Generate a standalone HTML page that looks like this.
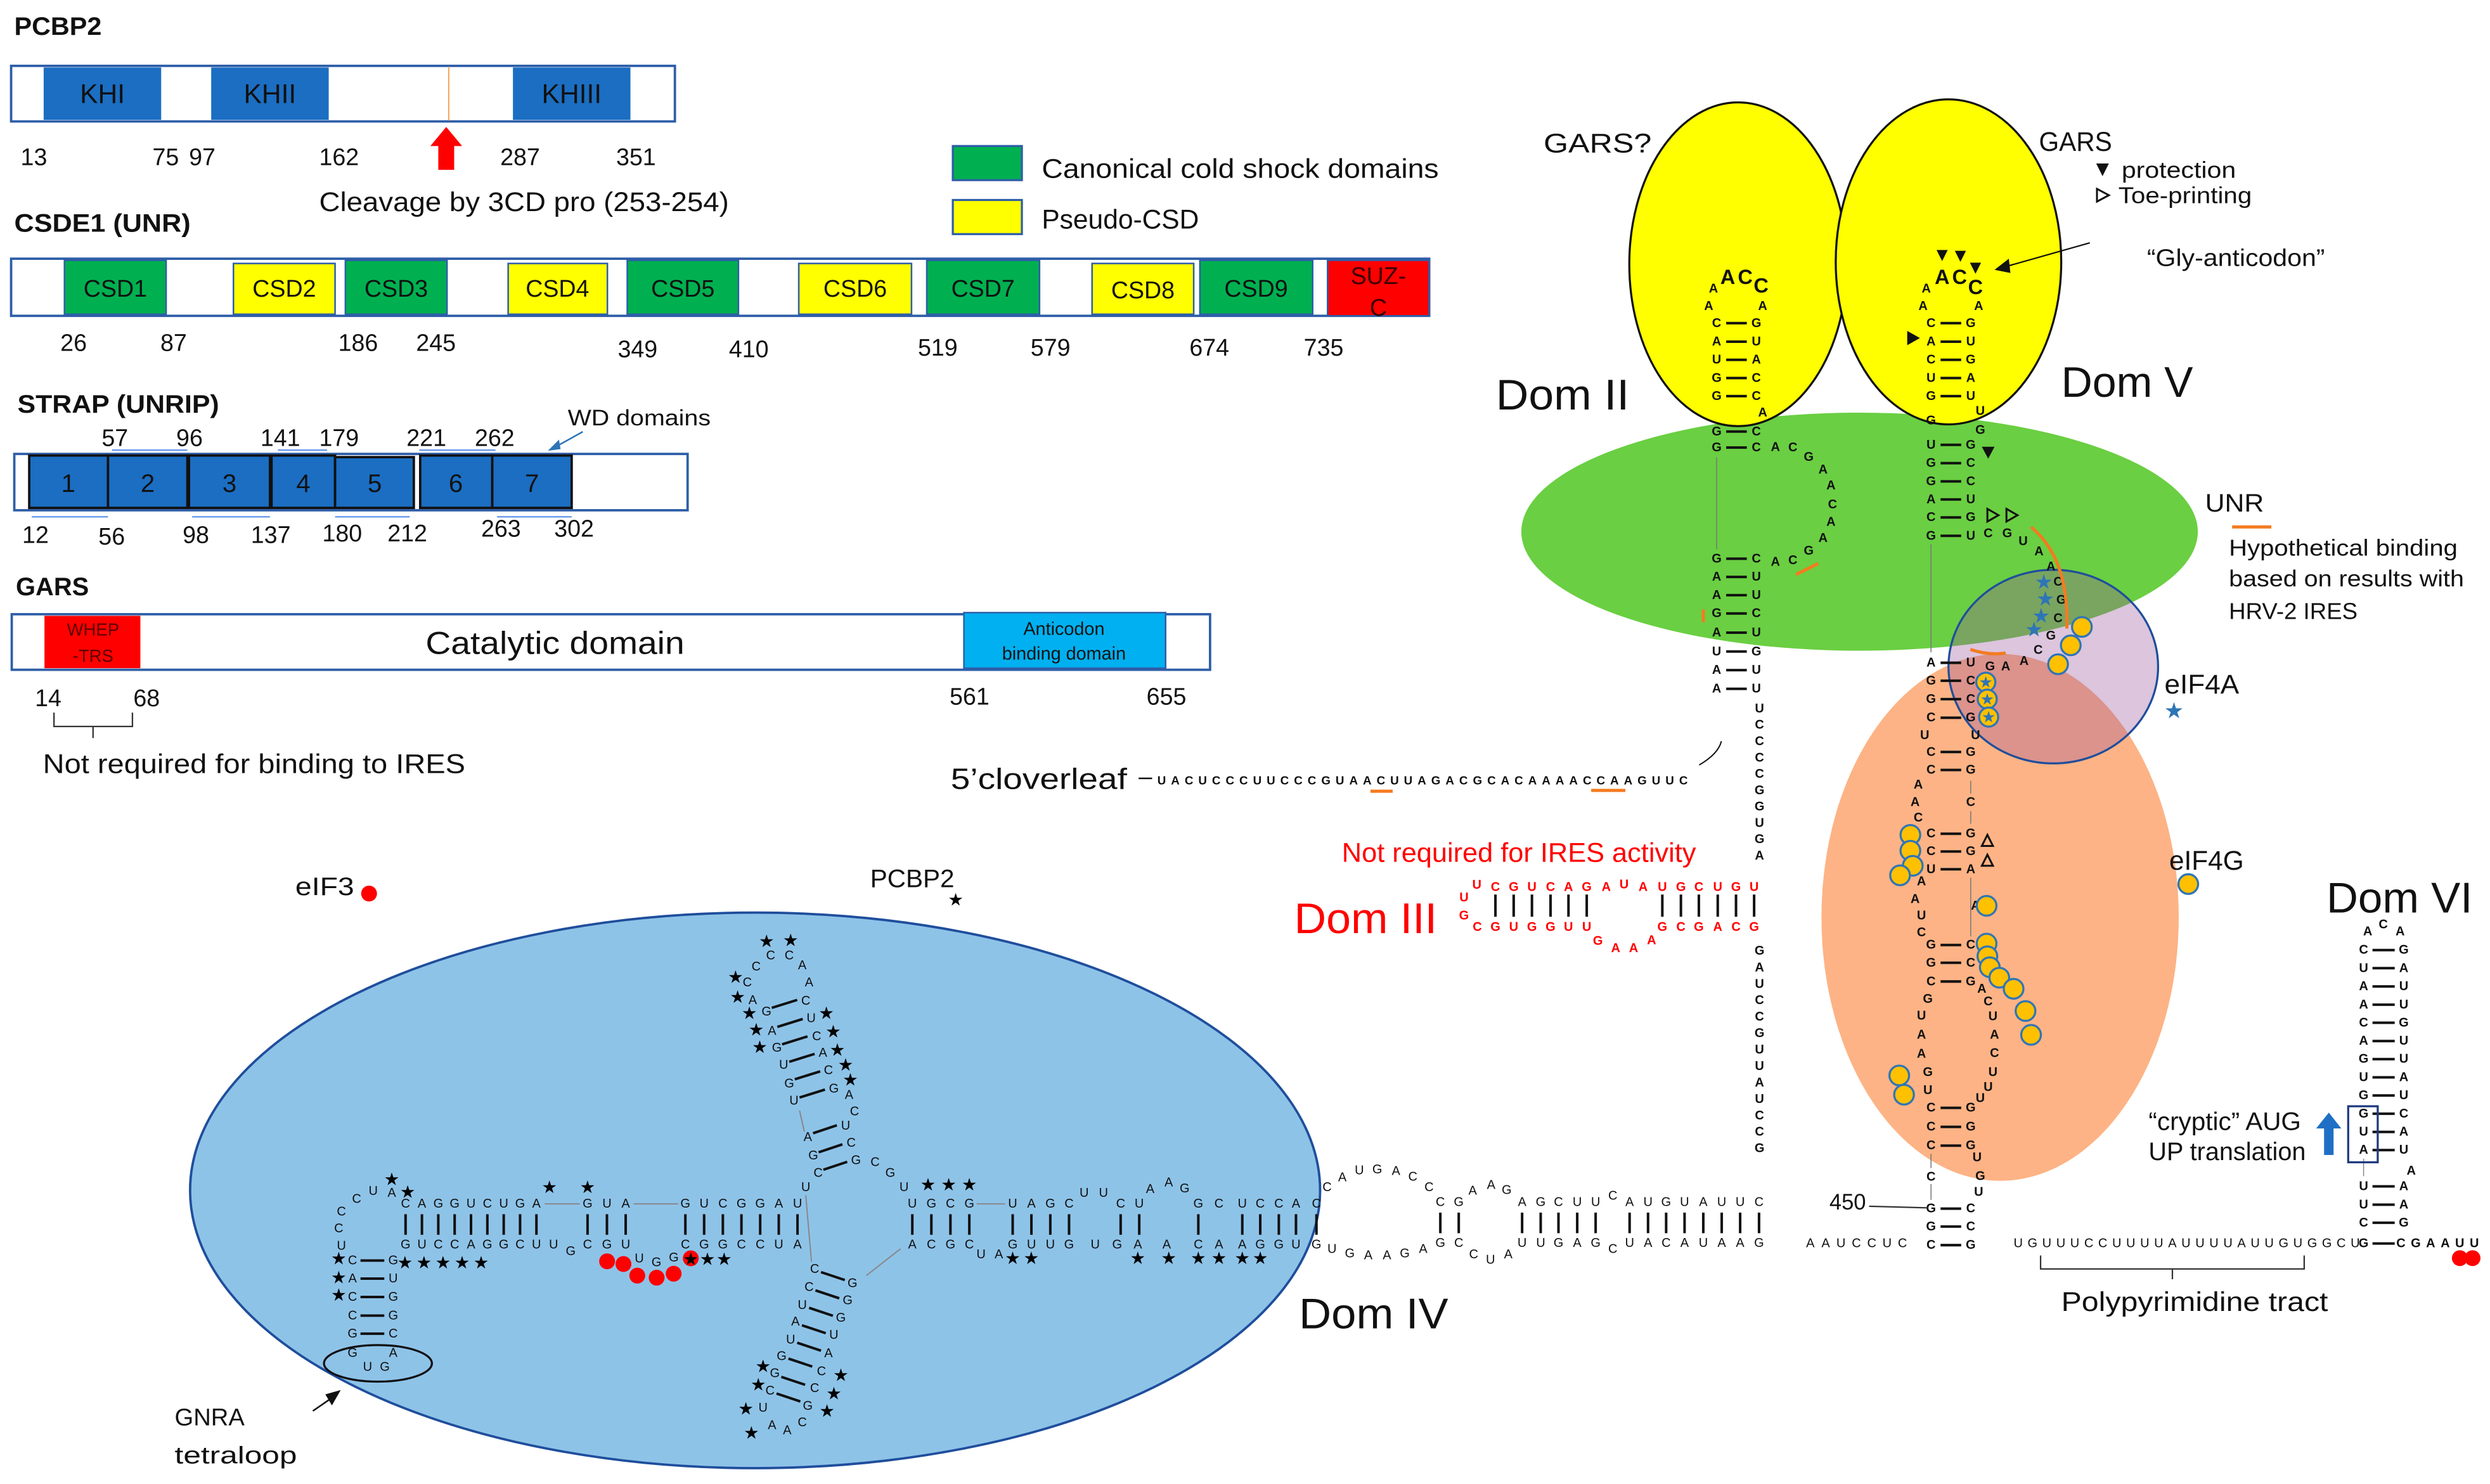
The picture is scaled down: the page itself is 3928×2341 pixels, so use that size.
<!DOCTYPE html>
<html><head><meta charset="utf-8"><style>
html,body{margin:0;padding:0;background:#fff;}
svg{display:block;}
.t{font-family:"Liberation Sans","DejaVu Sans",sans-serif;fill:#111;}
.n{font-family:"Liberation Sans",sans-serif;font-size:8px;text-anchor:middle;dominant-baseline:central;fill:#111;font-weight:bold;}
.r{fill:#ff0000;}
.s{font-family:"DejaVu Sans",sans-serif;font-size:11px;text-anchor:middle;dominant-baseline:central;fill:#000;}
.bs{fill:#2e75b6;}
.yc{fill:#ffc000;stroke:#2e75b6;stroke-width:1.3;}
.bar{stroke:#111;stroke-width:1.6;}
</style></head><body>
<svg width="3928" height="2341" viewBox="0 0 1568 935" preserveAspectRatio="none" xmlns="http://www.w3.org/2000/svg">
<rect width="1568" height="935" fill="#fff"/>

<!-- ============ PCBP2 ============ -->
<text class="t" x="9" y="22" font-size="16" font-weight="bold" textLength="55" lengthAdjust="spacingAndGlyphs">PCBP2</text>
<rect x="7" y="41.5" width="418" height="35" fill="#fff" stroke="#2e5ea8" stroke-width="1.5"/>
<rect x="27.5" y="42.5" width="74" height="33" fill="#1b6ec2"/>
<rect x="133" y="42.5" width="74" height="33" fill="#1b6ec2"/>
<rect x="323" y="42.5" width="74" height="33" fill="#1b6ec2"/>
<line x1="282.6" y1="42" x2="282.6" y2="76" stroke="#f4a460" stroke-width="0.8"/>
<g class="t" font-size="17" text-anchor="middle">
<text x="64.5" y="65">KHI</text><text x="170" y="65">KHII</text><text x="360" y="65">KHIII</text></g>
<g class="t" font-size="15">
<text x="13" y="104">13</text><text x="96" y="104">75</text><text x="119" y="104">97</text><text x="201" y="104">162</text><text x="315" y="104">287</text><text x="388" y="104">351</text></g>
<path d="M281 80 L291 92 L286 92 L286 107 L276 107 L276 92 L271 92 Z" fill="#ff0000"/>
<text class="t" x="201" y="133" font-size="17" textLength="258" lengthAdjust="spacingAndGlyphs">Cleavage by 3CD pro (253-254)</text>

<!-- ============ CSDE1 ============ -->
<text class="t" x="9" y="146" font-size="16" font-weight="bold" textLength="111" lengthAdjust="spacingAndGlyphs">CSDE1 (UNR)</text>
<rect x="7" y="163" width="893" height="36" fill="#fff" stroke="#2e5ea8" stroke-width="1.5"/>
<g stroke="#2e5ea8" stroke-width="1">
<rect x="40.6" y="164" width="64" height="34" fill="#00b050"/>
<rect x="147" y="166" width="64" height="32" fill="#ffff00"/>
<rect x="217.5" y="164" width="64" height="34" fill="#00b050"/>
<rect x="320" y="166" width="62.5" height="32" fill="#ffff00"/>
<rect x="395" y="164" width="70" height="34" fill="#00b050"/>
<rect x="503" y="166" width="71" height="32" fill="#ffff00"/>
<rect x="583.6" y="164" width="71" height="34" fill="#00b050"/>
<rect x="687.7" y="166" width="64" height="32" fill="#ffff00"/>
<rect x="755.6" y="164" width="71" height="34" fill="#00b050"/>
<rect x="836" y="164" width="64" height="35" fill="#ff0000"/>
</g>
<g class="t" font-size="15" text-anchor="middle">
<text x="72.6" y="187">CSD1</text><text x="179" y="187">CSD2</text><text x="249.5" y="187">CSD3</text><text x="351" y="187">CSD4</text><text x="430" y="187">CSD5</text><text x="538.5" y="187">CSD6</text><text x="619" y="187">CSD7</text><text x="719.7" y="188">CSD8</text><text x="791" y="187">CSD9</text>
<text x="868" y="179" fill="#3a0000">SUZ-</text><text x="868" y="199" fill="#3a0000">C</text></g>
<g class="t" font-size="15">
<text x="38" y="221">26</text><text x="101" y="221">87</text><text x="213" y="221">186</text><text x="262" y="221">245</text><text x="389" y="225">349</text><text x="459" y="225">410</text><text x="578" y="224">519</text><text x="649" y="224">579</text><text x="749" y="224">674</text><text x="821" y="224">735</text></g>
<rect x="600" y="92" width="43.5" height="21.5" fill="#00b050" stroke="#2e5ea8" stroke-width="1.3"/>
<rect x="600" y="126" width="43.5" height="21.5" fill="#ffff00" stroke="#2e5ea8" stroke-width="1.3"/>
<text class="t" x="656" y="112" font-size="17" textLength="250" lengthAdjust="spacingAndGlyphs">Canonical cold shock domains</text>
<text class="t" x="656" y="144" font-size="17" textLength="99" lengthAdjust="spacingAndGlyphs">Pseudo-CSD</text>

<!-- ============ STRAP ============ -->
<text class="t" x="11" y="260" font-size="16" font-weight="bold" textLength="127" lengthAdjust="spacingAndGlyphs">STRAP (UNRIP)</text>
<g class="t" font-size="15">
<text x="64" y="281">57</text><text x="111" y="281">96</text><text x="164" y="281">141</text><text x="201" y="281">179</text><text x="256" y="281">221</text><text x="299" y="281">262</text></g>
<g stroke="#6d9eeb" stroke-width="1"><line x1="70.5" y1="283.6" x2="118" y2="283.6"/><line x1="175" y1="283.6" x2="206" y2="283.6"/><line x1="264" y1="283.6" x2="312" y2="283.6"/>
<line x1="20" y1="325.6" x2="68" y2="325.6"/><line x1="121" y1="325.6" x2="170" y2="325.6"/><line x1="211" y1="325.6" x2="258" y2="325.6"/><line x1="313" y1="325.6" x2="360" y2="325.6"/></g>
<text class="t" x="357.5" y="268" font-size="14" textLength="90" lengthAdjust="spacingAndGlyphs">WD domains</text>
<line x1="367" y1="272" x2="349" y2="282" stroke="#2e75b6" stroke-width="1"/><path d="M345 284 L352 277 L353 283 Z" fill="#2e75b6"/>
<rect x="9" y="286" width="424" height="35.5" fill="#fff" stroke="#2e5ea8" stroke-width="1.5"/>
<g fill="#1b6ec2" stroke="#111" stroke-width="1.5">
<rect x="18.4" y="287" width="49.6" height="33"/><rect x="68" y="287" width="50" height="33"/><rect x="119" y="287" width="51" height="33"/><rect x="171" y="287" width="40" height="33"/><rect x="211" y="288" width="49.6" height="32"/><rect x="264.6" y="287" width="45.4" height="33"/><rect x="310" y="287" width="50" height="33"/></g>
<g class="t" font-size="16" text-anchor="middle">
<text x="43" y="310">1</text><text x="93" y="310">2</text><text x="144.5" y="310">3</text><text x="191" y="310">4</text><text x="236" y="310">5</text><text x="287" y="310">6</text><text x="335" y="310">7</text></g>
<g class="t" font-size="15">
<text x="14" y="342">12</text><text x="62" y="343">56</text><text x="115" y="342">98</text><text x="158" y="342">137</text><text x="203" y="341">180</text><text x="244" y="341">212</text><text x="303" y="338">263</text><text x="349" y="338">302</text></g>

<!-- ============ GARS ============ -->
<text class="t" x="10" y="375" font-size="16" font-weight="bold" textLength="46" lengthAdjust="spacingAndGlyphs">GARS</text>
<rect x="7.4" y="387" width="754.6" height="35" fill="#fff" stroke="#2e5ea8" stroke-width="1.5"/>
<rect x="28" y="388" width="60.4" height="33" fill="#ff0000"/>
<rect x="607" y="386" width="127" height="35" fill="#00b0f0" stroke="#2e5ea8" stroke-width="1"/>
<g class="t" font-size="11" text-anchor="middle"><text x="58.6" y="400.5" style="fill:#5a0000">WHEP</text><text x="58.6" y="417" style="fill:#5a0000">-TRS</text></g>
<g class="t" font-size="11.5" text-anchor="middle"><text x="670" y="400">Anticodon</text><text x="670" y="415.5">binding domain</text></g>
<text class="t" x="268" y="412" font-size="20" textLength="163" lengthAdjust="spacingAndGlyphs">Catalytic domain</text>
<g class="t" font-size="15">
<text x="22" y="445">14</text><text x="84" y="445">68</text><text x="598" y="444">561</text><text x="722" y="444">655</text></g>
<path d="M34 449 L34 457.7 L83.4 457.7 L83.4 449 M58.6 457.7 L58.6 465" fill="none" stroke="#333" stroke-width="0.9"/>
<text class="t" x="27" y="487" font-size="17" textLength="266" lengthAdjust="spacingAndGlyphs">Not required for binding to IRES</text>

<!-- ============ Background shapes (right) ============ -->
<ellipse cx="1259.5" cy="578" rx="112.5" ry="166" fill="#fdb385"/>
<ellipse cx="1171" cy="335" rx="213" ry="75" fill="#6acf42"/>
<ellipse cx="1293" cy="420" rx="66" ry="61" fill="rgb(153,84,154)" fill-opacity="0.34" stroke="#1f4e9c" stroke-width="1.3"/>
<ellipse cx="1094.5" cy="166.5" rx="68.5" ry="102" fill="#ffff00" stroke="#111" stroke-width="1.3"/>
<ellipse cx="1227" cy="165" rx="71" ry="102.4" fill="#ffff00" stroke="#111" stroke-width="1.3"/>

<text class="t" x="972" y="96" font-size="17" textLength="68" lengthAdjust="spacingAndGlyphs">GARS?</text>
<text class="t" x="1284" y="95" font-size="17" textLength="46" lengthAdjust="spacingAndGlyphs">GARS</text>
<path d="M1320 103 L1328 103 L1324 111 Z" fill="#111"/>
<text class="t" x="1336" y="112" font-size="14.5" textLength="72" lengthAdjust="spacingAndGlyphs">protection</text>
<path d="M1320.5 119 L1328 123 L1320.5 127 Z" fill="none" stroke="#111" stroke-width="1.2"/>
<text class="t" x="1334" y="128" font-size="14.5" textLength="84" lengthAdjust="spacingAndGlyphs">Toe-printing</text>
<text class="t" x="1352" y="167.5" font-size="15" textLength="112" lengthAdjust="spacingAndGlyphs">“Gly-anticodon”</text>
<line x1="1316" y1="153" x2="1263" y2="168" stroke="#111" stroke-width="0.9"/><path d="M1256 170 L1265 163 L1266 172 Z" fill="#111"/>
<text class="t" x="942" y="258" font-size="27" textLength="84" lengthAdjust="spacingAndGlyphs">Dom II</text>
<text class="t" x="1298" y="250" font-size="27" textLength="83" lengthAdjust="spacingAndGlyphs">Dom V</text>
<text class="t" x="1388.6" y="322.4" font-size="16" textLength="37" lengthAdjust="spacingAndGlyphs">UNR</text>
<line x1="1405.6" y1="332" x2="1430.3" y2="332" stroke="#f47b20" stroke-width="2"/>
<g class="t" font-size="14.5"><text x="1403.6" y="350" textLength="144" lengthAdjust="spacingAndGlyphs">Hypothetical binding</text><text x="1403.6" y="369.5" textLength="148" lengthAdjust="spacingAndGlyphs">based on results with</text><text x="1403.6" y="390" textLength="81" lengthAdjust="spacingAndGlyphs">HRV-2 IRES</text></g>
<text class="t" x="1363" y="437" font-size="17" textLength="47" lengthAdjust="spacingAndGlyphs">eIF4A</text>
<text class="s bs" x="1369" y="448" style="font-size:14px">★</text>
<text class="t" x="1366" y="548" font-size="17" textLength="47" lengthAdjust="spacingAndGlyphs">eIF4G</text>
<circle class="yc" cx="1378" cy="557" r="6.2"/>
<text class="t" x="1465" y="575" font-size="27" textLength="92" lengthAdjust="spacingAndGlyphs">Dom VI</text>

<!-- ============ Dom II stem ============ -->
<g class="n">
<text x="1081 1081 1081 1081 1081 1081 1081 1081 1081 1081 1081 1081 1081 1081 1081" y="203.6 215.3 226.7 238.2 249.6 271.9 282 352 363.5 375 386.5 398.6 410.5 422.2 434">CAUGGGGGAAGAUAA</text>
<text x="1106 1106 1106 1106 1106 1106 1106 1106 1106 1106 1106 1106 1106 1106 1106" y="203.6 215.3 226.7 238.2 249.6 271.9 282 352 363.5 375 386.5 398.6 410.5 422.2 434">GUACCCCCUUCUGUU</text>
<text x="1110 1076 1079 1110" y="260 193 182 193">AAAA</text>
<text x="1118 1129 1139 1148 1153 1154 1153 1148 1139 1129 1118" y="281.7 282 288 296 306 318 329 339 347 353 354">ACGAACAAGCA</text>
<text x="1108 1108 1108 1108 1108 1108 1108 1108 1108 1108" y="446.5 456.8 467.1 477.4 487.7 498 508.3 518.6 528.9 539.2">UCCCCGGUGA</text>
<text x="1108 1108 1108 1108 1108 1108 1108 1108 1108 1108 1108 1108 1108" y="599.2 609.6 620 630.3 640.7 651 661.4 671.8 682.1 692.5 702.9 713.2 723.6">GAUCCGUUAUCCG</text>
</g>
<g class="n" style="font-size:13px"><text x="1088 1099 1109" y="174.5 174.5 180">ACC</text><text x="1223 1234 1244" y="174.5 174.5 181">ACC</text></g>
<path class="bar" d="M1087 203.6h13M1087 215.3h13M1087 226.7h13M1087 238.2h13M1087 249.6h13M1087 271.9h13M1087 282h13M1087 352h13M1087 363.5h13M1087 375h13M1087 386.5h13M1087 398.6h13M1087 410.5h13M1087 422.2h13M1087 434h13"/>
<line x1="1081" y1="288" x2="1081" y2="346" stroke="#777" stroke-width="0.6"/>
<path d="M1131 362 L1145 355" stroke="#f47b20" stroke-width="2"/>
<path d="M1072.6 384 L1072.6 392" stroke="#f47b20" stroke-width="2"/>
<path d="M1084 467 Q1082 475 1070 482" fill="none" stroke="#111" stroke-width="0.8"/>

<!-- ============ Dom V stem ============ -->
<g class="n">
<text x="1216 1216 1216 1216 1216 1216 1216 1216 1216 1216 1216 1216" y="203.6 215.3 226.7 238.2 249.6 265 280.3 291.8 303.3 314.7 326 337.6">CACUGGUGGACG</text>
<text x="1241 1241 1241 1241 1241 1247 1247 1241 1241 1241 1241 1241 1241" y="203.6 215.3 226.7 238.2 249.6 259 271 280.3 291.8 303.3 314.7 326 337.6">GUGAUUGGCCUGU</text>
<text x="1213 1211 1246" y="182 193 193">AAA</text>
<text x="1252 1264 1274 1284 1291.5 1296 1298 1296 1291.5 1283.5 1274.6 1263 1253.2" y="336 336 341 347.5 357 366.6 378 389.6 400.6 409.6 416.5 419.9 419.9">CGUAACGCGCAAG</text>
<text x="1216 1216 1216 1216 1212 1216 1216 1208 1206 1208 1216 1216 1216 1210 1206 1210 1210 1216 1216 1216 1214 1210 1210 1210 1214 1214 1216 1216 1216 1216 1216 1216 1216" y="417.6 428.9 440.5 452.2 463.4 473.8 485.1 494.4 505.5 515.3 525.3 536.5 547.7 555.3 566.5 577 587.5 595.4 606.6 618.4 629.5 640 652 664 675.5 687 698 710 721.8 741.4 761.5 772.8 784.5">AGGCUCCAACCCUAAUCGGCGUAAGUCCCCGGC</text>
<text x="1241 1241 1241 1241 1244 1241 1241 1241 1241 1241 1241 1244 1241 1241 1241 1248 1252 1255 1256 1256 1255 1252 1247 1241 1241 1241 1245 1247 1246 1241 1241 1241" y="417.6 428.9 440.5 452.2 463.4 473.8 485.1 505.5 525.3 536.5 547.7 570.7 595.4 606.6 618.4 623 631 640.5 652 663.7 675.5 685 692 698 710 721.8 729.3 741 751 761.5 772.8 784.5">UCCGUGGCGGAACCGACUACUUUGGGUGUCCG</text>
</g>
<path class="bar" d="M1222 203.6h13M1222 215.3h13M1222 226.7h13M1222 238.2h13M1222 249.6h13M1222 280.3h13M1222 291.8h13M1222 303.3h13M1222 314.7h13M1222 326h13M1222 337.6h13M1222 417.6h13M1222 428.9h13M1222 440.5h13M1222 452.2h13M1222 473.8h13M1222 485.1h13M1222 525.3h13M1222 536.5h13M1222 547.7h13M1222 595.4h13M1222 606.6h13M1222 618.4h13M1222 698h13M1222 710h13M1222 721.8h13M1222 761.5h13M1222 772.8h13M1222 784.5h13"/>
<g stroke="#777" stroke-width="0.6"><line x1="1216" y1="343" x2="1216" y2="411"/><line x1="1241" y1="492" x2="1241" y2="500"/><line x1="1241" y1="511" x2="1241" y2="519"/><line x1="1241" y1="553" x2="1241" y2="590"/><line x1="1216" y1="727" x2="1216" y2="736"/><line x1="1216" y1="746" x2="1216" y2="756"/></g>
<g fill="#111"><path d="M1219.5 157.5h7l-3.5 7z"/><path d="M1231 158h7l-3.5 7z"/><path d="M1240.5 165.5h7l-3.5 7z"/><path d="M1201 208.5l8 4.5-8 4.5z"/><path d="M1248 281.5h8l-4 7.5z"/></g>
<g fill="none" stroke="#111" stroke-width="1.2"><path d="M1251.5 320.6l7 4-7 4z"/><path d="M1263.5 320.6l7 4-7 4z"/><path d="M1248 533l3.5-7 3.5 7z"/><path d="M1248 545.5l3.5-7 3.5 7z"/></g>
<path d="M1279 332 Q1303 352 1301.5 396" fill="none" stroke="#f47b20" stroke-width="2"/>
<path d="M1240.8 409.2 Q1252 413 1263 411.5" fill="none" stroke="#f47b20" stroke-width="2"/>
<g class="s bs" style="font-size:13px"><text x="1287" y="366.6">★</text><text x="1288" y="377.3">★</text><text x="1285.3" y="388">★</text><text x="1280.9" y="396.6">★</text></g>
<g class="yc"><circle cx="1311" cy="395" r="6.2"/><circle cx="1304" cy="406.6" r="6.2"/><circle cx="1296" cy="418.5" r="6.2"/>
<circle cx="1250.5" cy="429.8" r="6"/><circle cx="1251.4" cy="440.5" r="6"/><circle cx="1252.3" cy="451.8" r="6"/>
<circle cx="1203" cy="526" r="6.2"/><circle cx="1203" cy="536" r="6.2"/><circle cx="1204.5" cy="545.5" r="6.2"/><circle cx="1196.5" cy="551.5" r="6.2"/>
<circle cx="1251" cy="570.7" r="6.2"/><circle cx="1251" cy="594.5" r="6.2"/><circle cx="1251.5" cy="602.5" r="6.2"/><circle cx="1253" cy="609.4" r="6.2"/><circle cx="1259" cy="616" r="6.2"/><circle cx="1268" cy="623" r="6.2"/><circle cx="1275.5" cy="637" r="6.2"/><circle cx="1279" cy="652" r="6.2"/>
<circle cx="1196" cy="677.6" r="6.2"/><circle cx="1199" cy="689.7" r="6.2"/></g>
<g class="s bs" style="font-size:10px"><text x="1250.5" y="429.8">★</text><text x="1251.4" y="440.5">★</text><text x="1252.3" y="451.8">★</text></g>

<!-- ============ cloverleaf ============ -->
<text class="t" x="598.7" y="497" font-size="18.5" textLength="111" lengthAdjust="spacingAndGlyphs">5’cloverleaf</text>
<line x1="717" y1="490.4" x2="725.5" y2="490.4" stroke="#111" stroke-width="1"/>
<text class="n" x="728.8" y="491.7" style="text-anchor:start;font-size:7.5px" textLength="334" lengthAdjust="spacing">UACUCCCUUCCCGUAACUUAGACGCACAAAACCAAGUUC</text>
<g stroke="#f47b20" stroke-width="2"><line x1="863" y1="498.5" x2="877" y2="498.5"/><line x1="1002" y1="498" x2="1023.5" y2="498"/></g>

<!-- ============ Dom III ============ -->
<text class="t" x="845" y="543" font-size="17" style="fill:#ff0000" textLength="223" lengthAdjust="spacingAndGlyphs">Not required for IRES activity</text>
<text class="t" x="815" y="588" font-size="27" style="fill:#ff0000" textLength="90" lengthAdjust="spacingAndGlyphs">Dom III</text>
<g class="n r" style="fill:#ff0000">
<text x="930 941.7 953.2 964.7 976.4 987.7 999.2 1011.5 1022.7 1034.7 1046.8 1058.5 1069.8 1081.7 1093.2 1104.6" y="557.5 559 559 559 559 559 559 559 557.3 559 559 559 559 559 559 559" style="fill:#ff0000">UCGUCAGAUAUGCUGU</text>
<text x="921.9 921.9" y="565.6 576.9" style="fill:#ff0000">UG</text>
<text x="930.3 941.7 953.2 964.7 976.4 987.7 999.2 1006.2 1017.4 1028.7 1040 1046.8 1058.5 1069.8 1081.7 1093.2 1104.6" y="584.2 584.2 584.2 584.2 584.2 584.2 584.2 592.9 597.5 597.5 592.5 584.2 584.2 584.2 584.2 584.2 584.2" style="fill:#ff0000">CGUGGUUGAAAGCGACG</text>
</g>
<path class="bar" d="M941.7 563.6v14M953.2 563.6v14M964.7 563.6v14M976.4 563.6v14M987.7 563.6v14M999.2 563.6v14M1046.8 563.6v14M1058.5 563.6v14M1069.8 563.6v14M1081.7 563.6v14M1093.2 563.6v14M1104.6 563.6v14"/>

<!-- ============ Dom IV ellipse ============ -->
<ellipse cx="475.5" cy="750" rx="355.8" ry="175" fill="#8ec3e8" stroke="#1f4e9c" stroke-width="1.5"/>
<text class="t" x="186" y="564" font-size="16" textLength="37" lengthAdjust="spacingAndGlyphs">eIF3</text>
<circle cx="232.4" cy="563" r="5" fill="#ff0000"/>
<text class="t" x="548" y="559" font-size="16" textLength="53" lengthAdjust="spacingAndGlyphs">PCBP2</text>
<text class="s" x="601.8" y="567" style="font-size:11px">★</text>
<text class="t" x="818" y="837" font-size="27" textLength="94" lengthAdjust="spacingAndGlyphs">Dom IV</text>

<g class="n" style="font-weight:normal">
<text x="255.4 265.7 276 286.3 296.6 306.9 317.2 327.5 337.8 370 382.2 394 431.6 443.4 455.2 466.9 478.7 490.4 502.2 507.4" y="758.5 758.5 758.5 758.5 758.5 758.5 758.5 758.5 758.5 758.5 758.5 758.5 758.5 758.5 758.5 758.5 758.5 758.5 758.5 748">CAGGUCUGAGUAGUCGGAUU</text>
<text x="255.4 265.7 276 286.3 296.6 306.9 317.2 327.5 337.8 348.6 359.4 370 382.2 394 402.6 413.4 424.3 431.6 443.4 455.2 466.9 478.7 490.4 502.2" y="784.3 784.3 784.3 784.3 784.3 784.3 784.3 784.3 784.3 784.3 788.5 784.3 784.3 784.3 793 795.5 792.5 784.3 784.3 784.3 784.3 784.3 784.3 784.3">GUCCAGGCUUGCGUUGGCGGCCUA</text>
<text x="235 224.6 215 213.3 215 246.7" y="750.5 755.4 763.4 774 785 751.6">UCCCUA</text>
<text x="222 222 222 222 222 222 231.5" y="794.2 805.6 817.2 828.9 840.3 852.5 861.4">CACCGGU</text>
<text x="247.6 247.6 247.6 247.6 247.6 247.6 242.3" y="794.2 805.6 817.2 828.9 840.3 852.5 861.4">GUGGCAG</text>
<text x="476.2 485.3 497 505.2 509.5 470.6 474" y="609 602.2 602.2 608.2 619.1 619.1 630.2">CCCAACA</text>
<text x="482.7 486.2 489.2 493.5 497 500 508.7 512.1 515.2" y="637.5 649.6 660.2 671.1 682.7 693.6 716.6 728.2 739.1">GAGUGUAGC</text>
<text x="507.4 510.8 514.3 518.2 521.7 525.1 534.7 538.1 532.5 536 539 551.1 560.6 569.3" y="630.7 641.6 653 663.4 674.3 685.9 690 700.4 709.3 720.2 731.1 732.3 739.1 748">CUCACGACUCGCGU</text>
<text x="513 509.5 505.2 500.9 497.9 492.2 487.9 484.9 480.5 486.2 495.7 505.2" y="799.6 811 822.3 832.7 844.1 854.5 865.4 876.3 887.1 898 901.2 896.3">CCUAUGGCUAAC</text>
<text x="536.8 533.8 529.5 525.1 521.7 517.3 513 508.7" y="808.5 819.4 830.3 841.2 852.8 864.2 874.6 885.9">GGGUACCG</text>
<text x="574.5 586.5 598.5 610.4 637.7 649.5 661.4 673.2 682.7 694.9 705.7 717.4 724.3 736 746 754.6 767.6 782.3 793.6 805.3 816.1 829" y="758.5 758.5 758.5 758.5 758.5 758.5 758.5 758.5 751.7 751.7 758.5 758.5 749.3 745 748.8 758.5 758.5 758.5 758.5 758.5 758.5 758.5">UGCGUAGCUUCUAAGGCUCCAC</text>
<text x="574.5 586.5 598.5 610.4 617.8 629 637.7 649.5 661.4 673.2 689.7 703.5 716.5 734.7 754.6 767.6 782.3 793.6 805.3 816.1 829" y="784.3 784.3 784.3 784.3 790.4 790.4 784.3 784.3 784.3 784.3 784.3 784.3 784.3 784.3 784.3 784.3 784.3 784.3 784.3 784.3 784.3">ACGCUAGUUGUGAACAAGGUG</text>
<text x="835.7 845.3 856 867.3 879.1 889.7 899.9 907 918.6 927.4 939 948.8 958.5 970.2 981.4 993.2 1004.8 1015.6 1026.2 1037.8 1049.2 1060.8 1072.6 1084.2 1095.8 1107.7" y="748.1 741.9 737.5 737 737.9 741.5 748.1 757.5 757.5 750.3 746.6 749.9 757.5 757.5 757.5 757.5 757.5 753.5 757.5 757.5 757.5 757.5 757.5 757.5 757.5 757.5">CAUGACCCGAAGAGCUUCAUGUAUUC</text>
<text x="838.8 850 861.6 873.4 884.6 896.2 907 918.6 928 938.6 949.8 958.5 970.2 981.4 993.2 1004.8 1015.6 1026.2 1037.8 1049.2 1060.8 1072.6 1084.2 1095.8 1107.7" y="787.1 789.8 791.1 791.1 789.8 787.1 783.2 783.2 790.5 793.8 790.5 783.2 783.2 783.2 783.2 783.2 787.1 783.2 783.2 783.2 783.2 783.2 783.2 783.2 783.2">UGAAGAGCCUAUUGAGCUACAUAAG</text>
<text x="1140 1149.7 1159.3 1169 1178.7 1188.3 1198" y="783.5 783.5 783.5 783.5 783.5 783.5 783.5">AAUCCUC</text>
</g>
<text class="n" x="1268" y="783.5" style="text-anchor:start;font-weight:normal" textLength="218" lengthAdjust="spacing">UGUUUCCUUUUAUUUUAUUGUGGCU</text>
<path class="bar" d="M255.4 765v13M265.7 765v13M276 765v13M286.3 765v13M296.6 765v13M306.9 765v13M317.2 765v13M327.5 765v13M337.8 765v13M370 765v13M382.2 765v13M394 765v13M431.6 765v13M443.4 765v13M455.2 765v13M466.9 765v13M478.7 765v13M490.4 765v13M502.2 765v13M574.5 765v13M586.5 765v13M598.5 765v13M610.4 765v13M637.7 765v13M649.5 765v13M661.4 765v13M673.2 765v13M705.7 765v13M717.4 765v13M754.6 765v13M782.3 765v13M793.6 765v13M805.3 765v13M816.1 765v13M829 765v13M907 764v13M918.6 764v13M958.5 764v13M970.2 764v13M981.4 764v13M993.2 764v13M1004.8 764v13M1026.2 764v13M1037.8 764v13M1049.2 764v13M1060.8 764v13M1072.6 764v13M1084.2 764v13M1095.8 764v13M1107.7 764v13"/>
<path class="bar" stroke-width="1.4" d="M227 794.2h15M227 805.6h15M227 817.2h15M227 828.9h15M227 840.3h15M486 635l16 -5M489.5 647l16 -5M492.5 658l16 -5M497 669l16 -5M500.5 680l16 -5M503.5 691.5l16 -5M512 714l15 -5M515.5 726l15 -5M518.5 737l15 -5M517 801.5l15 5M513.5 813l15 5M509.5 824l15 5M505 835l15 5M502 846l15 5M496.5 856l15 5M492 867.5l15 5M489 878l15 5"/>
<g stroke="#888" stroke-width="0.8"><line x1="343" y1="758.5" x2="365" y2="758.5"/><line x1="399" y1="758.5" x2="427" y2="758.5"/><line x1="615" y1="758.5" x2="633" y2="758.5"/><line x1="503.5" y1="699.7" x2="506.5" y2="713"/><line x1="545.5" y1="803.7" x2="567.1" y2="786.8"/><line x1="507.4" y1="753" x2="511" y2="795"/></g>
<ellipse cx="238" cy="859" rx="34" ry="11.5" fill="none" stroke="#111" stroke-width="1.3"/>
<line x1="197" y1="889" x2="210" y2="880" stroke="#111" stroke-width="1"/><path d="M213 877 L206 879 L209 884 Z" fill="#111" stroke="#111" stroke-width="1.5"/>
<text class="t" x="110" y="898" font-size="15" textLength="44" lengthAdjust="spacingAndGlyphs">GNRA</text>
<text class="t" x="110" y="922" font-size="15" textLength="77" lengthAdjust="spacingAndGlyphs">tetraloop</text>
<g fill="#ff0000"><circle cx="382.3" cy="794.7" r="5"/><circle cx="392.6" cy="796.4" r="5"/><circle cx="401.3" cy="803.7" r="5"/><circle cx="413.5" cy="805" r="5"/><circle cx="424.2" cy="802.5" r="5"/><circle cx="435" cy="792.8" r="5"/>
<circle cx="1549" cy="792.7" r="5"/><circle cx="1557" cy="792.7" r="5"/></g>
<g class="s">
<text x="482.7" y="593.2">★</text><text x="497.9" y="592.5">★</text><text x="463.2" y="615.7">★</text><text x="464.5" y="628.3">★</text>
<text x="471.9" y="638.5">★</text><text x="476.2" y="648.9">★</text><text x="478.4" y="659.8">★</text>
<text x="520.4" y="638.5">★</text><text x="524.7" y="650.1">★</text><text x="527.3" y="661.7">★</text><text x="532.5" y="671.1">★</text><text x="535.5" y="680.3">★</text>
<text x="246.7" y="743">★</text><text x="256.7" y="751">★</text><text x="346" y="748">★</text><text x="370" y="748">★</text>
<text x="213.3" y="793">★</text><text x="213.3" y="805">★</text><text x="213.3" y="816">★</text>
<text x="255" y="795.7">★</text><text x="267" y="795.7">★</text><text x="279" y="795.7">★</text><text x="291" y="795.7">★</text><text x="303" y="795.7">★</text>
<text x="435" y="793.5">★</text><text x="445.5" y="793.5">★</text><text x="456" y="793.5">★</text>
<text x="584.4" y="746.4">★</text><text x="597.4" y="746.4">★</text><text x="610.4" y="746.4">★</text>
<text x="637.7" y="792.8">★</text><text x="649.4" y="792.8">★</text>
<text x="716.5" y="792.8">★</text><text x="736" y="792.8">★</text><text x="754.6" y="792.8">★</text><text x="767.6" y="792.8">★</text><text x="782.3" y="792.8">★</text><text x="793.6" y="792.8">★</text>
<text x="480.5" y="861">★</text><text x="477.5" y="872.6">★</text><text x="469.7" y="887.6">★</text><text x="473.2" y="902.9">★</text>
<text x="529.5" y="866.6">★</text><text x="525.1" y="878">★</text><text x="520.8" y="889.1">★</text>
</g>

<text class="t" x="1152" y="762" font-size="14" textLength="23" lengthAdjust="spacingAndGlyphs">450</text>
<line x1="1177" y1="760" x2="1214" y2="761" stroke="#333" stroke-width="0.9"/>
<path d="M1285 791 L1285 799.5 L1451 799.5 L1451 791 M1368 799.5 L1368 806" fill="none" stroke="#333" stroke-width="0.9"/>
<text class="t" x="1298" y="826" font-size="17" textLength="168" lengthAdjust="spacingAndGlyphs">Polypyrimidine tract</text>

<!-- ============ Dom VI ============ -->
<g class="n">
<text x="1488.4 1488.4 1488.4 1488.4 1488.4 1488.4 1488.4 1488.4 1488.4 1488.4 1488.4 1488.4 1488.4 1488.4 1488.4 1488.4" y="598.6 610 621.5 633 644.4 655.9 667.3 678.8 690.2 701.7 713.2 724.6 747.5 759 770.4 783.5">CUAACAGUGGUAUUCG</text>
<text x="1513.7 1513.7 1513.7 1513.7 1513.7 1513.7 1513.7 1513.7 1513.7 1513.7 1513.7 1513.7 1513.7 1513.7 1513.7" y="598.6 610 621.5 633 644.4 655.9 667.3 678.8 690.2 701.7 713.2 724.6 747.5 759 770.4">GAUUGUUAUCAUAAG</text>
<text x="1491 1500.8 1511.4 1518.4" y="587 582.6 587 737.7">ACAA</text>
</g>
<text class="n" x="1509" y="783.5" style="text-anchor:start" textLength="52" lengthAdjust="spacing">CGAAUU</text>
<path class="bar" d="M1494 598.6h14M1494 610h14M1494 621.5h14M1494 633h14M1494 644.4h14M1494 655.9h14M1494 667.3h14M1494 678.8h14M1494 690.2h14M1494 701.7h14M1494 713.2h14M1494 724.6h14M1494 747.5h14M1494 759h14M1494 770.4h14M1494 783.5h14"/>
<line x1="1488.4" y1="730" x2="1488.4" y2="741" stroke="#888" stroke-width="0.6"/>
<rect x="1478.7" y="697" width="18.6" height="35.3" fill="none" stroke="#1f3a80" stroke-width="1.3"/>
<path d="M1466.5 701 L1474.4 711 L1469.5 711 L1469.5 727.7 L1463.5 727.7 L1463.5 711 L1458.5 711 Z" fill="#1f6fc5"/>
<text class="t" x="1353" y="712" font-size="16" textLength="96" lengthAdjust="spacingAndGlyphs">“cryptic” AUG</text>
<text class="t" x="1353" y="731" font-size="16" textLength="99" lengthAdjust="spacingAndGlyphs">UP translation</text>
</svg>
</body></html>
